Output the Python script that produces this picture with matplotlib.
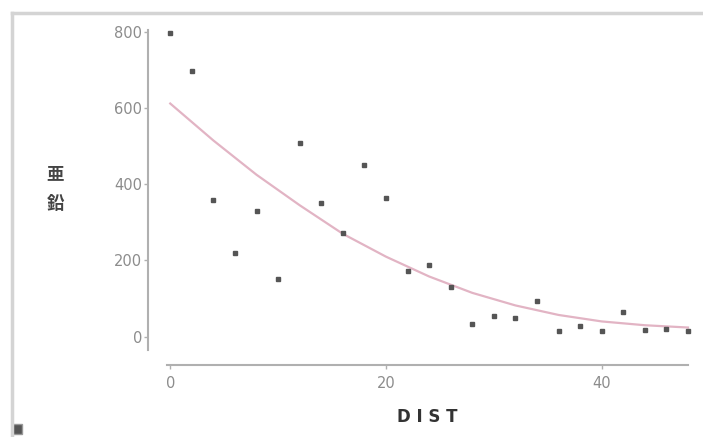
import matplotlib.pyplot as plt
from matplotlib.lines import Line2D
from matplotlib.patches import Rectangle

# scatter data
dist = [0, 2, 4, 6, 8, 10, 12, 14, 16, 18, 20, 22, 24, 26, 28, 30, 32, 34, 36, 38, 40, 42, 44, 46, 48]
value = [797, 697, 358, 219, 329, 151, 509, 352, 271, 451, 363, 172, 188, 131, 33, 55, 48, 94, 15, 28, 15, 66, 18, 20, 16]

# smooth fit curve
fit_x = [0, 4, 8, 12, 16, 20, 24, 28, 32, 36, 40, 44, 48]
fit_y = [612, 515, 425, 345, 270, 210, 158, 115, 82, 57, 40, 30, 24]

x_ticks = [0, 20, 40]
y_ticks = [0, 200, 400, 600, 800]

W, H = 703, 437
fig = plt.figure(figsize=(W / 100, H / 100), dpi=100)
ax = fig.add_axes([167 / W, 1 - 350 / H, (688 - 167) / W, (350 - 30) / H])

ax.plot(fit_x, fit_y, color='#e2b4c4', lw=1.6, zorder=2, clip_on=False)
ax.plot(dist, value, ls='none', marker='s', ms=3.2, color='#555555', zorder=3, clip_on=False)

ax.set_xlim(-0.3, 48)
ax.set_ylim(-35, 805)
ax.set_xticks(x_ticks)
ax.set_yticks(y_ticks)

for side in ['top', 'right']:
    ax.spines[side].set_visible(False)
ax.spines['left'].set_position(('outward', 14))
ax.spines['bottom'].set_position(('outward', 11))
for side in ['left', 'bottom']:
    ax.spines[side].set_color('#b0b0b0')
    ax.spines[side].set_linewidth(1.5)
ax.tick_params(colors='#b0b0b0', labelcolor='#8c8c8c', labelsize=10.5, length=3, width=1)
ax.tick_params(axis='y', pad=1)
ax.tick_params(axis='x', pad=5)

ax.set_xlabel('D I S T', fontsize=12, fontweight='bold', color='#333333', labelpad=12)
fig.text(55 / W, 1 - 189 / H, '亜\n鉛', family=['Noto Sans CJK JP', 'DejaVu Sans'],
         fontsize=12.5, fontweight='bold', color='#444444', ha='center', va='center',
         linespacing=1.9)

# outer frame pieces
fig.add_artist(Line2D([12 / W, 1], [1 - 13 / H, 1 - 13 / H], color='#d4d4d4', lw=2.5))
fig.add_artist(Line2D([12 / W, 12 / W], [0, 1 - 13 / H], color='#d4d4d4', lw=2.5))
fig.add_artist(Rectangle((12 / W, 3 / H), 10 / W, 10 / H, facecolor='#555555',
                         edgecolor='#999999', lw=1))

fig.savefig('out.png', dpi=100)
